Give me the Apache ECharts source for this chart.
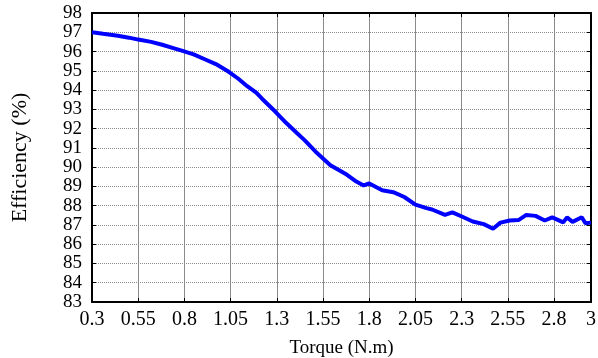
<!DOCTYPE html>
<html>
<head>
<meta charset="utf-8">
<script src="https://cdn.jsdelivr.net/npm/echarts@6/dist/echarts.min.js"></script>
<style>
	html, body { margin: 0; padding: 0; background: #fff; }
	#chart { width: 598px; height: 358px; }
</style>
</head>
<body>
<div id="chart"></div>
<script>
	// 数据：扭矩 (N.m) 与效率 (%)
	const torque = [0.3, 0.36, 0.44, 0.5, 0.55, 0.62, 0.68, 0.74, 0.79, 0.85, 0.91, 0.97,
		1.04, 1.09, 1.14, 1.19, 1.22, 1.29, 1.35, 1.41, 1.45, 1.51, 1.59, 1.68, 1.73, 1.77,
		1.8, 1.87, 1.93, 1.99, 2.05, 2.11, 2.14, 2.21, 2.25, 2.31, 2.36, 2.42, 2.47, 2.51,
		2.56, 2.61, 2.65, 2.7, 2.75, 2.79, 2.85, 2.87, 2.9, 2.95, 2.97, 3.0];
	const efficiency = [97.0, 96.92, 96.82, 96.72, 96.62, 96.5, 96.35, 96.18, 96.03, 95.85, 95.6, 95.35,
		94.95, 94.6, 94.2, 93.85, 93.55, 92.9, 92.3, 91.76, 91.4, 90.8, 90.1, 89.6, 89.25, 89.05,
		89.15, 88.8, 88.7, 88.45, 88.05, 87.87, 87.8, 87.52, 87.65, 87.4, 87.18, 87.04, 86.8, 87.12,
		87.23, 87.26, 87.52, 87.47, 87.23, 87.39, 87.13, 87.39, 87.16, 87.4, 87.09, 87.12];

	const font = 'Liberation Serif';
	const chart = echarts.init(document.getElementById('chart'));

	const frameTick = { show: true, inside: true, length: 4, lineStyle: { color: '#000', width: 1 } };

	chart.setOption({
		animation: false,
		grid: { left: 92, right: 7, top: 13, bottom: 56, outerBoundsMode: 'none' },
		xAxis: [
			{
				type: 'value',
				min: 0.3,
				max: 3,
				interval: 0.25,
				name: 'Torque (N.m)',
				nameLocation: 'middle',
				nameGap: 37,
				nameTextStyle: { fontFamily: font, fontSize: 19, color: '#000' },
				axisLine: { show: true, lineStyle: { color: '#000', width: 2 } },
				axisTick: frameTick,
				axisLabel: {
					fontFamily: font,
					fontSize: 20,
					color: '#000',
					margin: 8,
					showMinLabel: true,
					showMaxLabel: true,
					formatter: v => String(+v.toFixed(2))
				},
				splitLine: { show: true, lineStyle: { color: '#8a8a8a', width: 1, type: 'solid' } }
			},
			{
				type: 'value',
				position: 'top',
				min: 0.3,
				max: 3,
				interval: 0.25,
				axisLine: { show: true, lineStyle: { color: '#000', width: 2 } },
				axisTick: frameTick,
				axisLabel: { show: false },
				splitLine: { show: false }
			}
		],
		yAxis: [
			{
				type: 'value',
				min: 83,
				max: 98,
				interval: 1,
				name: 'Efficiency (%)',
				nameLocation: 'middle',
				nameGap: 61,
				nameTextStyle: { fontFamily: font, fontSize: 22, color: '#000' },
				axisLine: { show: true, lineStyle: { color: '#000', width: 2 } },
				axisTick: frameTick,
				axisLabel: {
					fontFamily: font,
					fontSize: 19,
					lineHeight: 15,
					color: '#000',
					margin: 10,
					showMinLabel: true,
					showMaxLabel: true,
					hideOverlap: false,
					textMargin: 0,
					minMargin: -4
				},
				splitLine: { show: true, lineStyle: { color: '#8a8a8a', width: 1, type: [1, 1] } }
			},
			{
				type: 'value',
				position: 'right',
				min: 83,
				max: 98,
				interval: 1,
				axisLine: { show: true, lineStyle: { color: '#000', width: 2 } },
				axisTick: frameTick,
				axisLabel: { show: false },
				splitLine: { show: false }
			}
		],
		series: [
			{
				type: 'line',
				data: torque.map((t, i) => [t, efficiency[i]]),
				showSymbol: false,
				lineStyle: { color: '#0000ff', width: 4 },
				itemStyle: { color: '#0000ff' }
			}
		]
	});
</script>
</body>
</html>
